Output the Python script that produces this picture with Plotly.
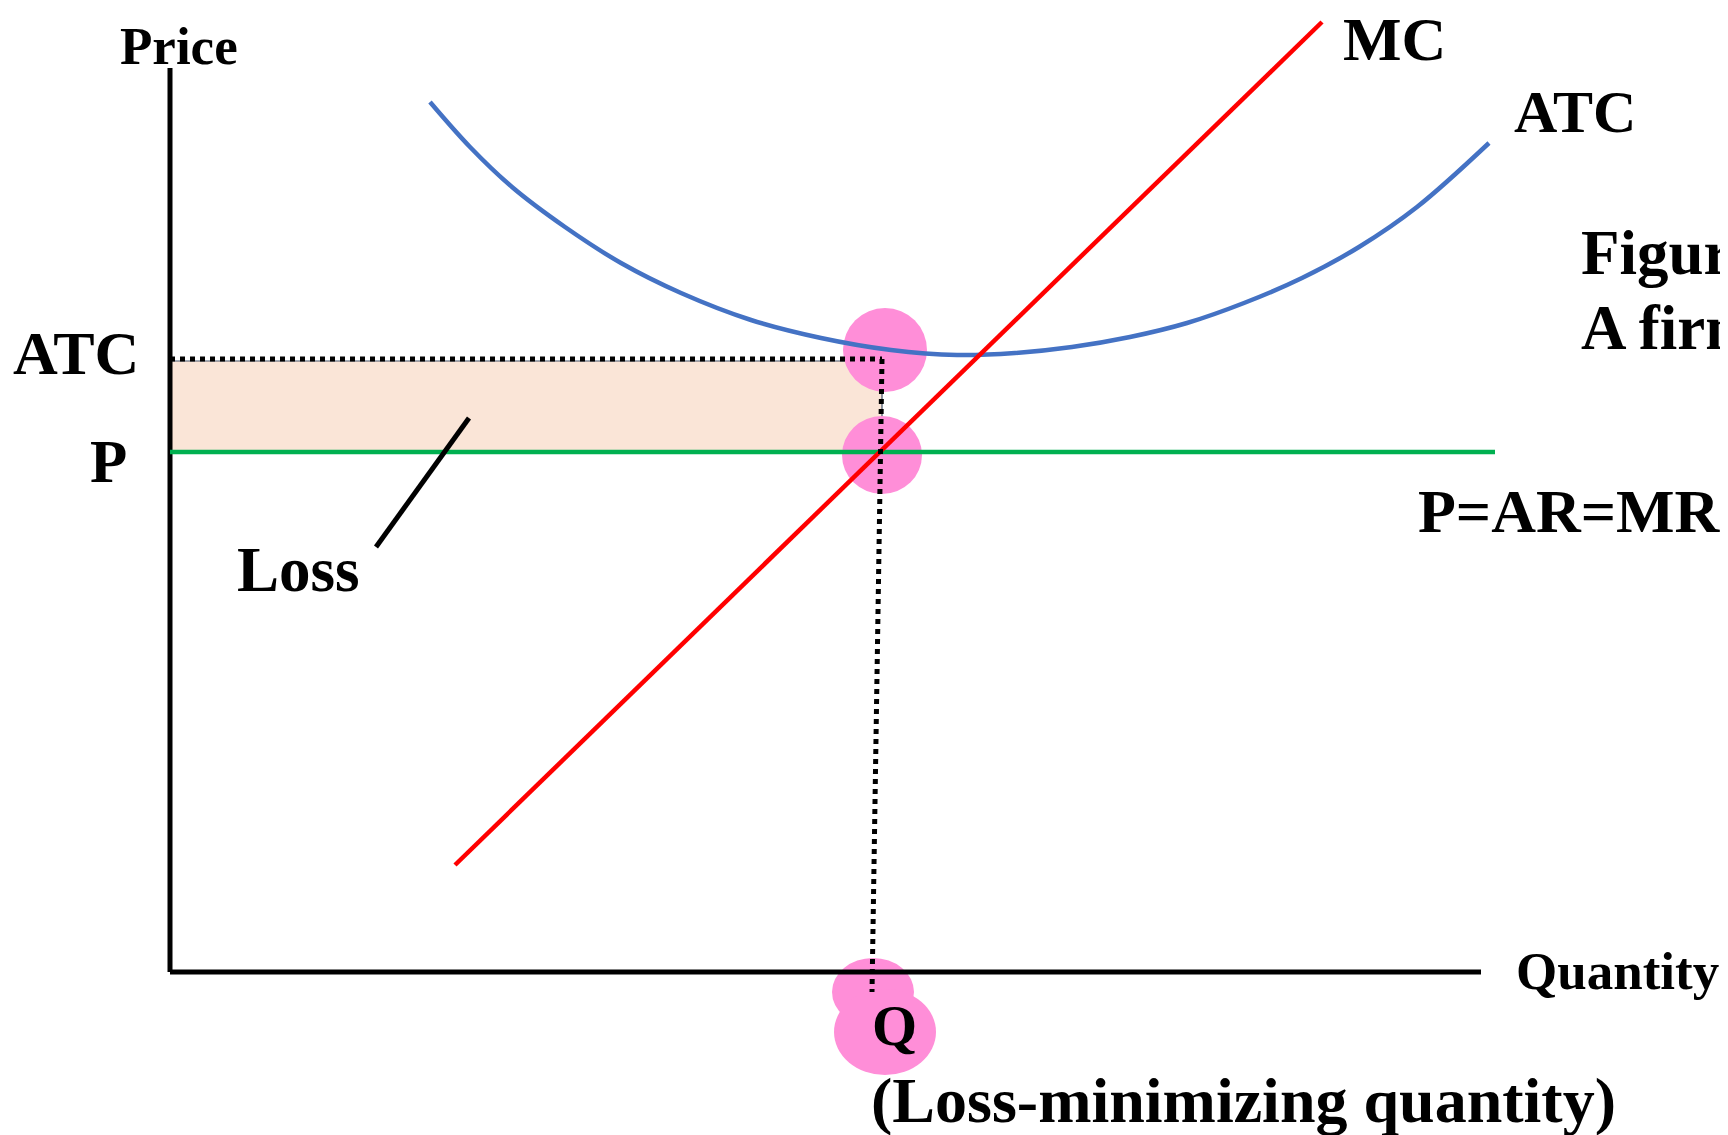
import plotly.graph_objects as go

# ---------------- data (economic units) ----------------
P_level = 5.20          # price = AR = MR
ATC_level = 6.13        # ATC at the loss-minimising quantity
Q_star = 7.12           # loss-minimising quantity
Q_foot = 7.02           # where the (slightly slanted) dotted guide meets the axis

mc_q = [2.85, 11.52]
mc_p = [1.07, 9.50]

atc_q = [2.60, 3.00, 3.42, 3.95, 4.51, 5.11, 5.81, 6.51, 7.21, 7.87, 8.45,
         9.02, 9.60, 10.17, 10.74, 11.32, 11.89, 12.47, 13.19]
atc_p = [8.70, 8.25, 7.85, 7.45, 7.09, 6.79, 6.52, 6.34, 6.22, 6.17, 6.19,
         6.25, 6.35, 6.49, 6.69, 6.94, 7.25, 7.65, 8.29]

mr_q = [0.0, 13.25]

axis_q_max = 13.11
axis_p_max = 9.04

loss_ptr_q = [2.99, 2.06]
loss_ptr_p = [5.54, 4.25]

# highlight blobs: (centre q, centre p, half-width, half-height)
blobs = [
    (7.15, 6.22, 0.42, 0.42),
    (7.12, 5.17, 0.40, 0.39),
    (7.03, -0.20, 0.41, 0.34),
    (7.15, -0.60, 0.51, 0.43),
]

# ---------------- styles ----------------
BLUE = "#4472C4"
RED = "#FF0000"
GREEN = "#00B050"
PINK = "#FF8ED8"
PEACH = "#FAE5D7"
FONT = "Liberation Serif"

fig = go.Figure()

# axes
fig.add_trace(go.Scatter(x=[0, 0], y=[axis_p_max, 0], mode="lines",
                         line=dict(color="black", width=5), hoverinfo="skip"))
fig.add_trace(go.Scatter(x=[0, axis_q_max], y=[0, 0], mode="lines",
                         line=dict(color="black", width=5), hoverinfo="skip"))

# P = AR = MR
fig.add_trace(go.Scatter(x=mr_q, y=[P_level, P_level], mode="lines",
                         line=dict(color=GREEN, width=4.5), hoverinfo="skip"))
# ATC
fig.add_trace(go.Scatter(x=atc_q, y=atc_p, mode="lines", line_shape="spline",
                         line=dict(color=BLUE, width=4.5), hoverinfo="skip"))
# MC
fig.add_trace(go.Scatter(x=mc_q, y=mc_p, mode="lines",
                         line=dict(color=RED, width=4.5), hoverinfo="skip"))
# dotted guides
fig.add_trace(go.Scatter(x=[0, Q_star], y=[ATC_level, ATC_level], mode="lines",
                         line=dict(color="black", width=5, dash="5px,5px"), hoverinfo="skip"))
fig.add_trace(go.Scatter(x=[Q_star, Q_foot], y=[ATC_level, -0.20], mode="lines",
                         line=dict(color="black", width=5, dash="5px,5px"), hoverinfo="skip"))
# Loss pointer
fig.add_trace(go.Scatter(x=loss_ptr_q, y=loss_ptr_p, mode="lines",
                         line=dict(color="black", width=5), hoverinfo="skip"))

# loss rectangle (below traces)
shapes = [dict(type="rect", xref="x", yref="y", x0=0, x1=Q_star,
               y0=P_level, y1=ATC_level - 0.02, fillcolor=PEACH,
               line=dict(color="#44546A", width=1.2), layer="below")]
for cq, cp, hw, hh in blobs:
    shapes.append(dict(type="circle", xref="x", yref="y",
                       x0=cq - hw, x1=cq + hw, y0=cp - hh, y1=cp + hh,
                       fillcolor=PINK, line=dict(width=0), layer="below"))


def label(text, x, y, size, xanchor="center"):
    return dict(text=text, x=x, y=y, xref="x", yref="y", showarrow=False,
                xanchor=xanchor, yanchor="middle",
                font=dict(family=FONT, size=size, color="black", weight="bold"))


annotations = [
    label("Price", 0.09, 9.26, 53),
    label("ATC", -0.29, ATC_level + 0.06, 62, "right"),
    label("P", -0.41, P_level - 0.09, 61, "right"),
    label("Loss", 1.285, 4.02, 63),
    label("MC", 11.71, 9.33, 62, "left"),
    label("ATC", 13.42, 8.60, 60, "left"),
    label("Figure", 14.09, 7.19, 63, "left"),
    label("A firm", 14.09, 6.44, 63, "left"),
    label("P=AR=MR", 12.46, 4.61, 62, "left"),
    label("Quantity", 13.44, 0.01, 53, "left"),
    label("Q", 7.24, -0.53, 58),
    label("(Loss-minimizing quantity)", 6.99, -1.28, 64, "left"),
]

# the page body adds an 8 px offset; the ranges compensate for it
fig.update_layout(
    width=1728, height=1135,
    margin=dict(l=0, r=0, t=0, b=0),
    paper_bgcolor="white", plot_bgcolor="white",
    showlegend=False,
    xaxis=dict(range=[-1.62, 15.66], visible=False, fixedrange=True),
    yaxis=dict(range=[-1.71, 9.64], visible=False, fixedrange=True),
    shapes=shapes,
    annotations=annotations,
)

fig.write_html("out.html")
